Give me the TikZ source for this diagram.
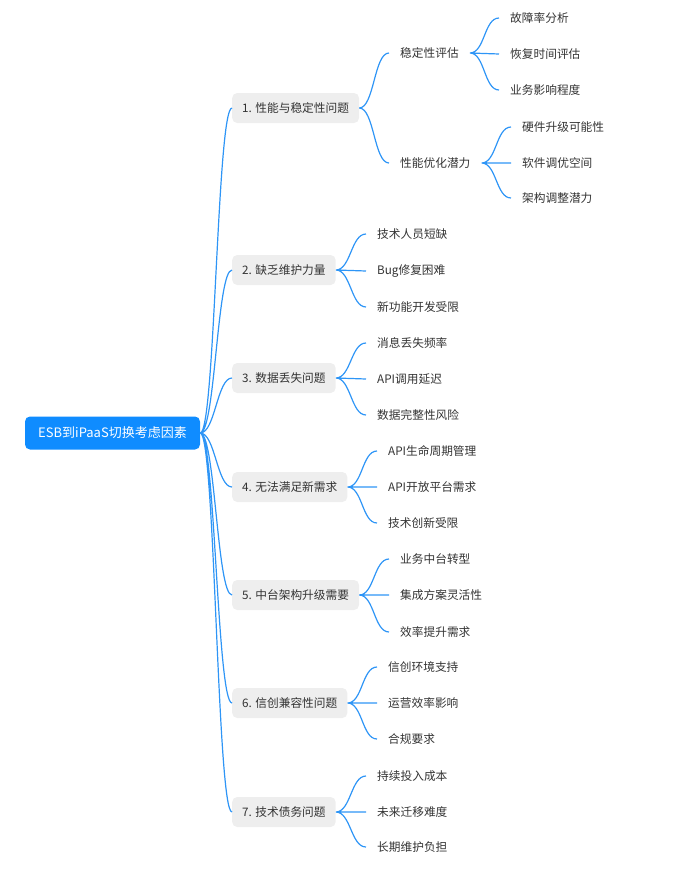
\documentclass[tikz,border=0pt]{standalone}
\usepackage{fontspec}
\setmainfont{Noto Sans CJK SC}
\usepackage{xcolor}
\definecolor{linkblue}{HTML}{2E95F6}
\definecolor{rootblue}{HTML}{0F8CFF}
\definecolor{boxgray}{HTML}{EEEEEE}
\definecolor{textgray}{HTML}{333333}

\begin{document}
\begin{tikzpicture}[x=1pt,y=-1pt,
    root/.style={fill=rootblue, text=white, rounded corners=5pt, minimum width=175pt, minimum height=33pt, inner sep=0pt, font=\fontsize{13pt}{15pt}\selectfont},
    topic/.style={fill=boxgray, text=textgray, rounded corners=5pt, minimum height=30pt, inner ysep=0pt, inner xsep=10pt, anchor=west, font=\fontsize{11.7pt}{14pt}\selectfont},
    leaf/.style={text=textgray, inner xsep=11pt, anchor=west, font=\fontsize{11.7pt}{14pt}\selectfont},
    link/.style={draw=linkblue, line width=1.2pt, to path={.. controls +(15pt,0) and +(-15pt,0) .. (\tikztotarget)}}]
                \useasboundingbox (0,0) rectangle (693,873);
                % root and main topics
                \node[root] (esb) at (112.5,433) {ESB到iPaaS切换考虑因素};
                \node[topic] (t1) at (232,108) {1. 性能与稳定性问题};
                \node[topic] (t2) at (232,270) {2. 缺乏维护力量};
                \node[topic] (t3) at (232,378) {3. 数据丢失问题};
                \node[topic] (t4) at (232,487) {4. 无法满足新需求};
                \node[topic] (t5) at (232,595) {5. 中台架构升级需要};
                \node[topic] (t6) at (232,703) {6. 信创兼容性问题};
                \node[topic] (t7) at (232,812) {7. 技术债务问题};
                % 1
                \node[leaf] (s1) at (389,53) {稳定性评估};
                \node[leaf] (s2) at (389,163) {性能优化潜力};
                \node[leaf] (s11) at (499,18) {故障率分析};
                \node[leaf] (s12) at (499,54) {恢复时间评估};
                \node[leaf] (s13) at (499,90) {业务影响程度};
                \node[leaf] (s21) at (511,127) {硬件升级可能性};
                \node[leaf] (s22) at (511,163) {软件调优空间};
                \node[leaf] (s23) at (511,198) {架构调整潜力};
                % 2
                \node[leaf] (m1) at (366,234) {技术人员短缺};
                \node[leaf] (m2) at (366,271) {Bug修复困难};
                \node[leaf] (m3) at (366,307) {新功能开发受限};
                % 3
                \node[leaf] (d1) at (366,343) {消息丢失频率};
                \node[leaf] (d2) at (366,379) {API调用延迟};
                \node[leaf] (d3) at (366,415) {数据完整性风险};
                % 4
                \node[leaf] (n1) at (377,451) {API生命周期管理};
                \node[leaf] (n2) at (377,487) {API开放平台需求};
                \node[leaf] (n3) at (377,523) {技术创新受限};
                % 5
                \node[leaf] (z1) at (389,559) {业务中台转型};
                \node[leaf] (z2) at (389,595) {集成方案灵活性};
                \node[leaf] (z3) at (389,632) {效率提升需求};
                % 6
                \node[leaf] (x1) at (377,667) {信创环境支持};
                \node[leaf] (x2) at (377,703) {运营效率影响};
                \node[leaf] (x3) at (377,739) {合规要求};
                % 7
                \node[leaf] (j1) at (366,776) {持续投入成本};
                \node[leaf] (j2) at (366,812) {未来迁移难度};
                \node[leaf] (j3) at (366,847) {长期维护负担};
                % connectors
                \draw[link] (esb.east) to (t1.west) (esb.east) to (t2.west) (esb.east) to (t3.west) (esb.east) to (t4.west)
                    (esb.east) to (t5.west) (esb.east) to (t6.west) (esb.east) to (t7.west);
                \draw[link] (t1.east) to (s1.west) (t1.east) to (s2.west);
                \draw[link] (s1.east) to (s11.west) (s1.east) to (s12.west) (s1.east) to (s13.west);
                \draw[link] (s2.east) to (s21.west) (s2.east) to (s22.west) (s2.east) to (s23.west);
                \draw[link] (t2.east) to (m1.west) (t2.east) to (m2.west) (t2.east) to (m3.west);
                \draw[link] (t3.east) to (d1.west) (t3.east) to (d2.west) (t3.east) to (d3.west);
                \draw[link] (t4.east) to (n1.west) (t4.east) to (n2.west) (t4.east) to (n3.west);
                \draw[link] (t5.east) to (z1.west) (t5.east) to (z2.west) (t5.east) to (z3.west);
                \draw[link] (t6.east) to (x1.west) (t6.east) to (x2.west) (t6.east) to (x3.west);
                \draw[link] (t7.east) to (j1.west) (t7.east) to (j2.west) (t7.east) to (j3.west);
            \end{tikzpicture}
\end{document}
